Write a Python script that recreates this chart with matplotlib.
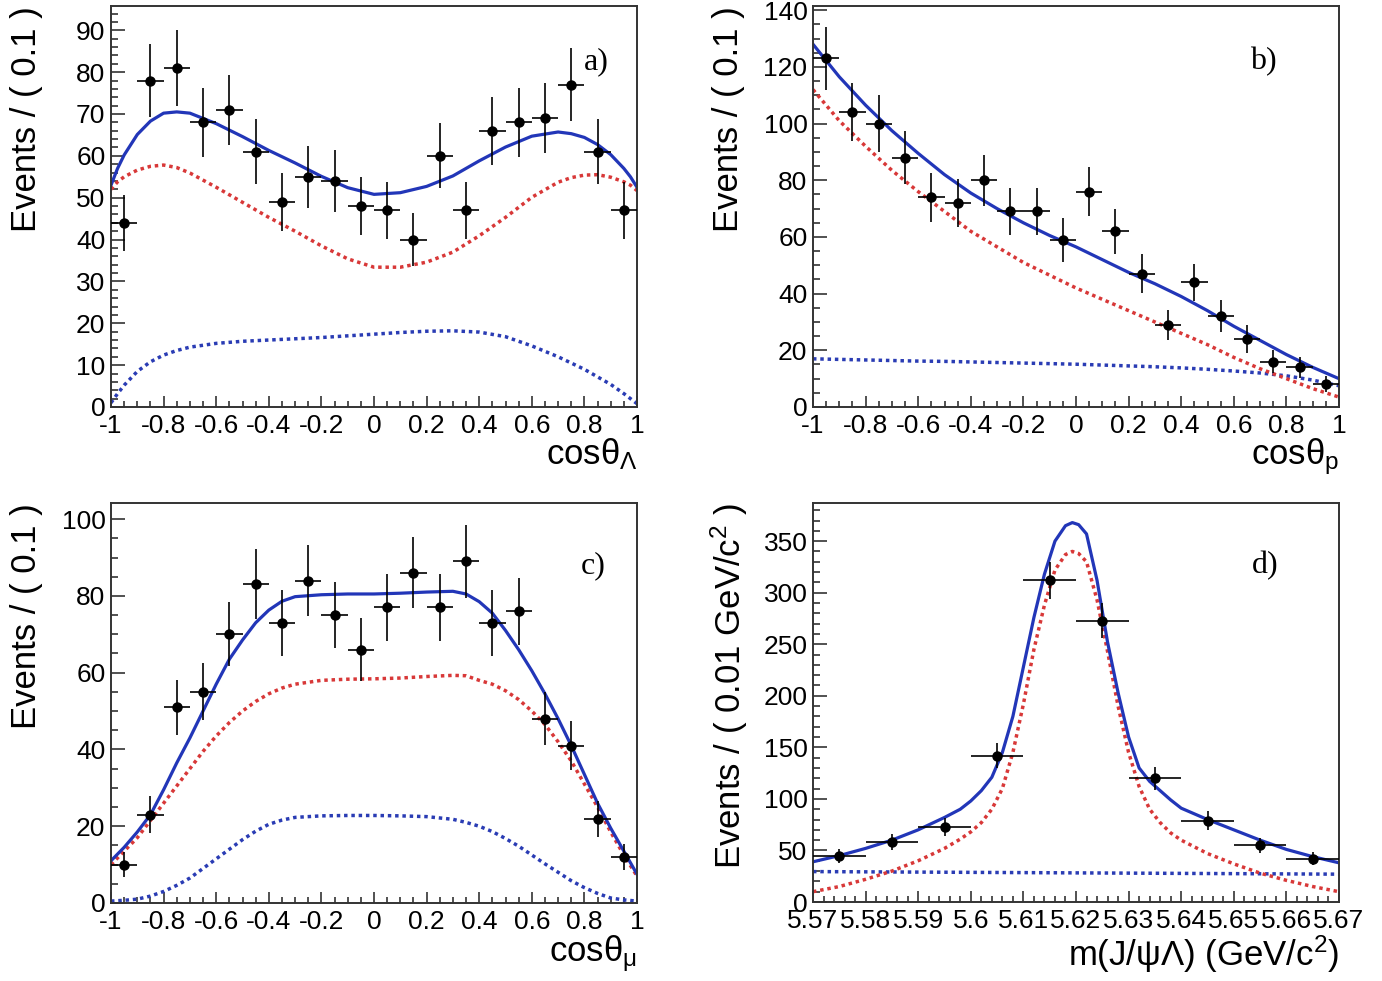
import numpy as np
import matplotlib
matplotlib.use('Agg')
import matplotlib.pyplot as plt
from matplotlib.ticker import MultipleLocator, FuncFormatter

plt.rcParams['font.family'] = ['Liberation Sans', 'DejaVu Sans']
plt.rcParams['mathtext.fontset'] = 'custom'
plt.rcParams['mathtext.rm'] = 'Liberation Sans'
plt.rcParams['mathtext.it'] = 'Liberation Sans'
plt.rcParams['mathtext.bf'] = 'Liberation Sans:bold'
plt.rcParams['axes.unicode_minus'] = False

# ---------------------------------------------------------------------------
# data: binned events and fit projections
# ---------------------------------------------------------------------------
cos_bins = [-0.95, -0.85, -0.75, -0.65, -0.55, -0.45, -0.35, -0.25, -0.15, -0.05,
            0.05, 0.15, 0.25, 0.35, 0.45, 0.55, 0.65, 0.75, 0.85, 0.95]

counts_lam = [44, 78, 81, 68, 71, 61, 49, 55, 54, 48, 47, 40, 60, 47, 66, 68, 69, 77, 61, 47]
counts_p = [123, 104, 100, 88, 74, 72, 80, 69, 69, 59, 76, 62, 47, 29, 44, 32, 24, 16, 14, 8]
counts_mu = [10, 23, 51, 55, 70, 83, 73, 84, 75, 66, 77, 86, 77, 89, 73, 76, 48, 41, 22, 12]

mass_bins = [5.575, 5.585, 5.595, 5.605, 5.615, 5.625, 5.635, 5.645, 5.655, 5.665]
counts_mass = [45, 58, 73, 142, 312, 273, 120, 79, 55, 42]

# panel a) cos(theta_Lambda)
xa = [-1, -0.975, -0.95, -0.9, -0.85, -0.8, -0.75, -0.7, -0.6, -0.5, -0.4, -0.3, -0.2,
      -0.1, 0, 0.1, 0.2, 0.3, 0.4, 0.5, 0.6, 0.7, 0.75, 0.8, 0.85, 0.9, 0.95, 0.975, 1]
tot_a = [53, 57, 60.2, 65.1, 68.3, 70.2, 70.5, 70.2, 67.7, 64.6, 61.3, 58.3, 55.1,
         52.4, 50.8, 51.2, 52.7, 55.2, 58.8, 62.1, 64.7, 65.7, 65.3, 64.4, 62.7, 60.3, 57, 55, 52.5]
sig_a = [52, 53.8, 55, 56.6, 57.5, 57.8, 57.2, 55.9, 52.5, 48.9, 45.3, 42, 38.5,
         35.4, 33.4, 33.4, 34.6, 37, 40.9, 45.3, 50.1, 53.7, 54.8, 55.4, 55.5, 54.9, 53.8, 53, 51.7]
bkg_a = [1, 3.2, 5.2, 8.5, 10.8, 12.4, 13.5, 14.3, 15.2, 15.7, 16, 16.3, 16.6,
         17, 17.4, 17.8, 18.1, 18.2, 17.9, 16.8, 14.6, 12, 10.5, 9, 7.2, 5.4, 3.2, 2, 0.8]

# panel b) cos(theta_p)
xb = [-1, -0.9, -0.8, -0.7, -0.6, -0.5, -0.4, -0.3, -0.2, -0.1, 0,
      0.1, 0.2, 0.3, 0.4, 0.5, 0.6, 0.7, 0.8, 0.9, 1]
tot_b = [128, 116.5, 106.5, 97.5, 89.5, 82, 75.5, 70, 65, 60.5, 56.5,
         52, 47.5, 43.5, 39, 34, 28.5, 23.5, 18.5, 14, 10]
sig_b = [112, 101, 92, 83.5, 76, 69, 62, 56.5, 51, 46.5, 42,
         38, 34, 30, 26, 22, 17.5, 13.5, 10, 6.5, 3.5]
bkg_b = [17, 16.8, 16.6, 16.4, 16.2, 16.1, 15.9, 15.7, 15.5, 15.3, 15.1,
         14.8, 14.5, 14.2, 13.8, 13.3, 12.7, 12, 11, 9.5, 7.5]

# panel c) cos(theta_mu)
xc = [-1, -0.95, -0.9, -0.85, -0.8, -0.75, -0.7, -0.65, -0.6, -0.55, -0.5, -0.45, -0.4,
      -0.35, -0.3, -0.2, -0.1, 0, 0.1, 0.2, 0.3, 0.35, 0.4, 0.45, 0.5, 0.55, 0.6, 0.65,
      0.7, 0.75, 0.8, 0.85, 0.9, 0.95, 1]
tot_c = [11, 14.5, 18.5, 23, 29.5, 36.5, 43, 50, 57, 63.5, 68.5, 73, 76.3,
         78.6, 79.8, 80.3, 80.5, 80.5, 80.7, 81, 81.2, 80.5, 78.5, 75.5, 71, 66, 60.5, 54.5,
         48, 41, 33.5, 26, 19.5, 13.5, 7.5]
sig_c = [10, 13.5, 17, 21.5, 26, 30.5, 35, 39.5, 43.5, 47, 50, 52.5, 54.5,
         56, 57, 58, 58.3, 58.4, 58.6, 59, 59.3, 59.2, 58, 57, 55.3, 53, 50, 46.5,
         42, 37, 31, 25, 18.5, 12.5, 7]
bkg_c = [0.5, 0.7, 1, 1.8, 3, 4.6, 6.5, 9, 11.5, 14, 16.5, 18.7, 20.5,
         21.6, 22.3, 22.7, 22.8, 22.8, 22.7, 22.5, 21.8, 21, 20, 18.6, 16.8, 14.8, 12.5, 10.2,
         8, 5.8, 4, 2.5, 1.3, 0.8, 0.5]

# panel d) m(J/psi Lambda)
xd = [5.570, 5.575, 5.580, 5.585, 5.590, 5.595, 5.598, 5.600, 5.602, 5.604, 5.606,
      5.608, 5.610, 5.612, 5.614, 5.616, 5.618, 5.6193, 5.6205, 5.622, 5.624, 5.626,
      5.628, 5.630, 5.632, 5.634, 5.636, 5.638, 5.640, 5.645, 5.650, 5.655, 5.660,
      5.665, 5.670]
tot_d = [39, 45, 52, 60, 70, 82, 90, 98, 108, 121, 145,
         180, 228, 276, 318, 350, 365, 368, 366, 357, 312, 252,
         203, 160, 130, 117, 108, 99, 91, 80, 70, 60, 51,
         44, 38]
sig_d = [10, 15, 22, 30, 40, 52, 61, 68, 77, 90, 110,
         145, 192, 245, 288, 322, 337, 340, 338, 330, 293, 243,
         190, 145, 112, 90, 77, 67, 60, 47, 37, 28, 21,
         15, 10]
xd_bkg = [5.570, 5.670]
bkg_d = [29.5, 27]

# ---------------------------------------------------------------------------
# styling
# ---------------------------------------------------------------------------
W, H = 1382, 981
C_TOT = '#2236b8'
C_SIG = '#d83838'
C_BKG = '#2a3cb4'


def fmt_num(v, pos):
    return f'{round(v, 3) + 0.0:g}'


def make_axes(x0, y0, x1, y1):
    # pixel box -> figure fraction
    return fig.add_axes([x0 / W, 1 - y1 / H, (x1 - x0) / W, (y1 - y0) / H])


def style_axes(ax, xlim, ylim, xmaj, xmin, ymaj, ymin):
    ax.set_xlim(*xlim)
    ax.set_ylim(*ylim)
    ax.xaxis.set_major_locator(MultipleLocator(xmaj))
    ax.xaxis.set_minor_locator(MultipleLocator(xmin))
    ax.yaxis.set_major_locator(MultipleLocator(ymaj))
    ax.yaxis.set_minor_locator(MultipleLocator(ymin))
    ax.xaxis.set_major_formatter(FuncFormatter(fmt_num))
    ax.yaxis.set_major_formatter(FuncFormatter(fmt_num))
    ax.tick_params(which='both', direction='in', top=False, right=False,
                   labelsize=19, width=1.1, color='#222222')
    ax.tick_params(axis='y', which='major', length=10, pad=4)
    ax.tick_params(axis='y', which='minor', length=5)
    ax.tick_params(axis='x', which='major', length=8, pad=5)
    ax.tick_params(axis='x', which='minor', length=4)
    for sp in ax.spines.values():
        sp.set_linewidth(1.4)
        sp.set_color('#333333')


def draw_panel(ax, xc_, yc_, xerr, xf, tot, sig, xbk, bkg):
    ax.plot(xbk, bkg, color=C_BKG, lw=2.5, ls=(0, (1, 1.1)))
    ax.plot(xf, sig, color=C_SIG, lw=2.5, ls=(0, (1, 1.1)))
    ax.plot(xf, tot, color=C_TOT, lw=2.3)
    ax.errorbar(xc_, yc_, yerr=np.sqrt(yc_), xerr=xerr, fmt='o', color='k',
                ms=6.5, lw=1.2, capsize=0, zorder=5)


fig = plt.figure(figsize=(W / 100, H / 100), dpi=100)

# a)
ax_a = make_axes(111, 6, 637, 407)
style_axes(ax_a, (-1, 1), (0, 95.8), 0.2, 0.05, 10, 2)
draw_panel(ax_a, cos_bins, counts_lam, 0.05, xa, tot_a, sig_a, xa, bkg_a)
fig.text(596 / W, 1 - 62 / H, 'a)', ha='center', va='center',
         fontsize=23, family='Liberation Serif')
fig.text(27 / W, 1 - 6 / H, 'Events / ( 0.1 )', rotation=90, ha='center', va='top', fontsize=25)
fig.text(637 / W, 1 - 436 / H, r'cos$\theta_{\Lambda}$', ha='right', va='top', fontsize=25)

# b)
ax_b = make_axes(813, 6, 1339, 407)
style_axes(ax_b, (-1, 1), (0, 141.5), 0.2, 0.05, 20, 5)
draw_panel(ax_b, cos_bins, counts_p, 0.05, xb, tot_b, sig_b, xb, bkg_b)
fig.text(1263 / W, 1 - 62 / H, 'b)', ha='center', va='center',
         fontsize=23, family='Liberation Serif')
fig.text(729 / W, 1 - 6 / H, 'Events / ( 0.1 )', rotation=90, ha='center', va='top', fontsize=25)
fig.text(1339 / W, 1 - 436 / H, r'cos$\theta_{\rm p}$', ha='right', va='top', fontsize=25)

# c)
ax_c = make_axes(111, 503, 637, 903)
style_axes(ax_c, (-1, 1), (0, 104.2), 0.2, 0.05, 20, 5)
draw_panel(ax_c, cos_bins, counts_mu, 0.05, xc, tot_c, sig_c, xc, bkg_c)
fig.text(593 / W, 1 - 566 / H, 'c)', ha='center', va='center',
         fontsize=23, family='Liberation Serif')
fig.text(27 / W, 1 - 503 / H, 'Events / ( 0.1 )', rotation=90, ha='center', va='top', fontsize=25)
fig.text(637 / W, 1 - 933 / H, r'cos$\theta_{\mu}$', ha='right', va='top', fontsize=25)

# d)
ax_d = make_axes(813, 503, 1339, 902)
style_axes(ax_d, (5.57, 5.67), (0, 387), 0.01, 0.002, 50, 10)
draw_panel(ax_d, mass_bins, counts_mass, 0.005, xd, tot_d, sig_d, xd_bkg, bkg_d)
fig.text(1265 / W, 1 - 566 / H, 'd)', ha='center', va='center',
         fontsize=23, family='Liberation Serif')
fig.text(729 / W, 1 - 503 / H, r'Events / ( 0.01 GeV/c$^{2}$ )', rotation=90,
         ha='center', va='top', fontsize=25)
fig.text(1339 / W, 1 - 933 / H, r'm(J/$\psi\Lambda$) (GeV/c$^{2}$)', ha='right', va='top',
         fontsize=25)

fig.savefig('out.png', dpi=100)
